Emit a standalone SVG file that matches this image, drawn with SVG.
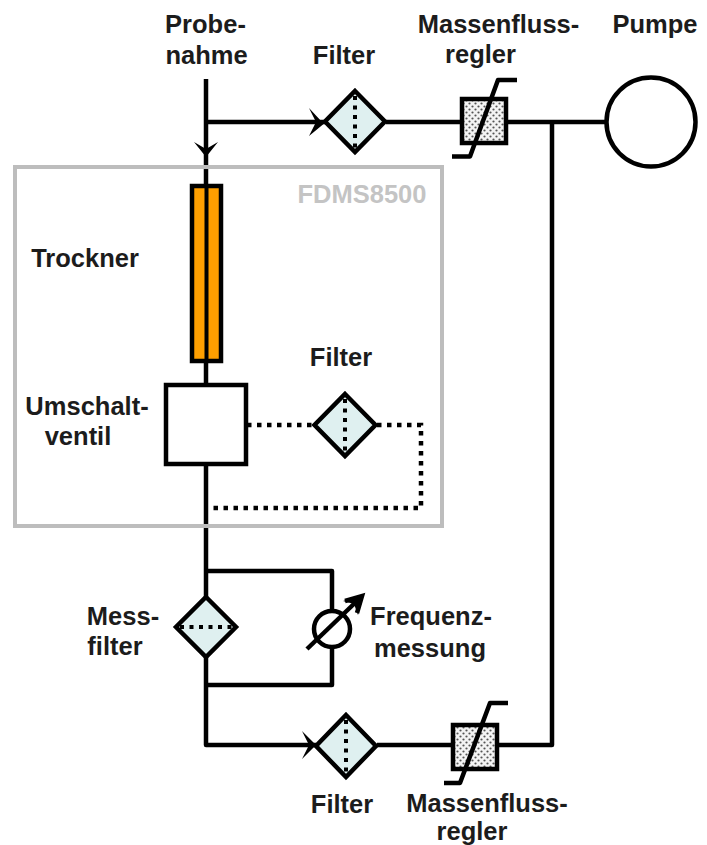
<svg xmlns="http://www.w3.org/2000/svg" width="707" height="845" viewBox="0 0 707 845">
<style>
text{font-family:"Liberation Sans",Arial,sans-serif;font-weight:700;font-size:25.5px;fill:#1c1c1c;text-anchor:middle}
.l{fill:none;stroke:#000;stroke-width:4.5;stroke-linejoin:round}
.d{fill:none;stroke:#000;stroke-width:4.5;stroke-dasharray:4.5 5.5}
.f{fill:#dff0f0;stroke:#000;stroke-width:4.5;stroke-linejoin:miter}
.i{fill:none;stroke:#000;stroke-width:4;stroke-dasharray:4 5.5}
.m{fill:url(#dots);stroke:#000;stroke-width:4.5}
.a{fill:#000;stroke:none}
</style>
<defs>
<pattern id="dots" width="6" height="6" patternUnits="userSpaceOnUse">
<rect width="6" height="6" fill="#f4f4f4"/>
<circle cx="1.5" cy="1.5" r="1.1" fill="#555"/>
<circle cx="4.5" cy="4.5" r="1.1" fill="#555"/>
</pattern>
</defs>
<g id="connectors">
<path class="l" d="M206 79V165M206 169V186M206 122H326M386 122H461M507 122H606M552 122V745H497M206 361V385M206 464V524M206 528V745H316M377 745H453M206 571H332V612M332 647V685H206"/>
<path class="d" d="M247 425H314M377 425H421V508H209"/>
<path class="a" d="M326 122L322 122L309 108L316 122L309 136ZM206 157L194 142L206 149L218 142ZM316 745L302 731L309 745L302 759Z"/>
</g>
<g id="gehaeuse"><rect x="15" y="167" width="427" height="359" fill="none" stroke="#bdbdbd" stroke-width="4"/>
<text x="362" y="203" style="fill:#c4c4c4">FDMS8500</text></g>
<g id="probenahme"><text x="205.500" y="33">Probe-</text><text x="206.500" y="64">nahme</text></g>
<g id="filter-oben"><path class="f" d="M355 91L385 121.500L355 152L325 121.500Z"/><path class="i" d="M355 96V150"/><text x="344" y="64">Filter</text></g>
<g id="regler-oben"><rect class="m" x="462" y="99" width="44" height="44"/><path class="l" d="M452 156.500H470L498 80H517"/><text x="498.500" y="33">Massenfluss-</text><text x="480.500" y="63">regler</text></g>
<g id="pumpe"><circle cx="651" cy="122" r="44.500" fill="#fff" stroke="#000" stroke-width="4.500"/><text x="655" y="33">Pumpe</text></g>
<g id="trockner"><rect x="192" y="186" width="29" height="175" fill="#ff9f00" stroke="#000" stroke-width="4.500"/><path d="M206.500 186V361" stroke="#000" stroke-width="4"/><text x="85" y="267">Trockner</text></g>
<g id="ventil"><rect x="166" y="385" width="80" height="79" fill="#fff" stroke="#000" stroke-width="4.500"/><text x="87" y="415">Umschalt-</text><text x="78" y="445">ventil</text></g>
<g id="filter-mitte"><path class="f" d="M345 394L375.500 425L345 456L314.500 425Z"/><path class="i" d="M345 399V454"/><text x="341" y="366">Filter</text></g>
<g id="messfilter"><path class="f" d="M206 597L236 627L206 657L176 627Z"/><path class="i" d="M180 627H234"/><text x="123" y="625">Mess-</text><text x="115" y="655">filter</text></g>
<g id="frequenz"><circle cx="332" cy="629" r="18" fill="#fff" stroke="#000" stroke-width="4.500"/><path class="l" d="M307 649L358 600"/><path class="a" d="M363 595L358 615L354 604L343 601Z"/><path d="M345 601L362 596L357 613" fill="none" stroke="#000" stroke-width="4.500"/><text x="431" y="625">Frequenz-</text><text x="430" y="657">messung</text></g>
<g id="filter-unten"><path class="f" d="M346 715L376 746L346 777L316 746Z"/><path class="i" d="M346 720V775"/><text x="342" y="813">Filter</text></g>
<g id="regler-unten"><rect class="m" x="453" y="725" width="44" height="44"/><path class="l" d="M444 783H460L490 703H508"/><text x="487" y="812">Massenfluss-</text><text x="472" y="840">regler</text></g>
</svg>
